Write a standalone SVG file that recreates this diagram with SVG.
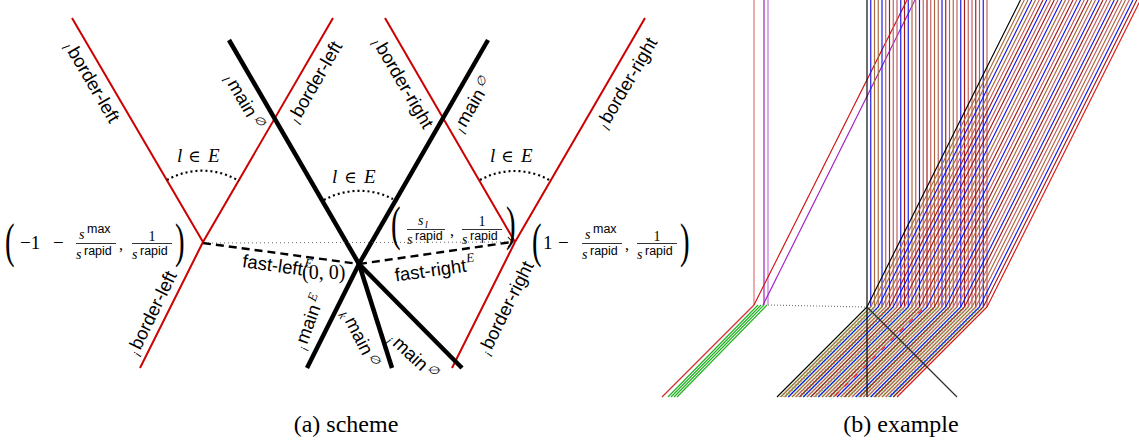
<svg xmlns="http://www.w3.org/2000/svg" xmlns:xlink="http://www.w3.org/1999/xlink" width="1139" height="446" viewBox="0 0 1139 446">
<style>
.red{stroke:#cc0000;stroke-width:2;fill:none}
.blk{stroke:#000;stroke-width:4.5;fill:none}
.dash{stroke:#000;stroke-width:2.4;stroke-dasharray:8 5;fill:none}
.dot{stroke:#555;stroke-width:0.9;stroke-dasharray:1 3;fill:none}
.arc{stroke:#000;stroke-width:2.2;stroke-dasharray:2 3;fill:none}
.lbl{font-family:"Liberation Sans",Arial,sans-serif;font-size:18.5px;fill:#000}
.pre{font-family:"Liberation Serif",serif;font-style:italic;font-size:12px}
.sup{font-family:"DejaVu Serif",serif;font-style:italic;font-size:12px}
.supE{font-family:"Liberation Serif",serif;font-style:italic;font-size:13px}
.m{font-family:"Liberation Serif",serif;font-style:italic;fill:#000}
.rm{font-family:"Liberation Serif",serif;fill:#000}
.sym{font-family:"DejaVu Serif",serif;fill:#000}
.ss{font-family:"Liberation Sans",Arial,sans-serif;font-size:12.5px;fill:#000}
.bar{stroke:#000;stroke-width:0.8}
.big{font-size:48px}
.cap{font-family:"Liberation Serif",serif;font-size:24px;fill:#000}
.ex use, .ex line, .ex path{fill:none;stroke-width:1.15}
.k0{stroke:#000}.cb{stroke:#1414ea}.ct{stroke:#a8683c}.cr{stroke:#c05a5a}.cd{stroke:#a01818}.cx{stroke:#e01010}
</style>
<defs>
<marker id="arr" markerWidth="8" markerHeight="12" refX="0" refY="0" viewBox="-7 -6 8 12" orient="auto" markerUnits="userSpaceOnUse">
<path d="M-5,-5 Q-1.5,-1 0,0 Q-1.5,1 -5,5" fill="none" stroke="#000" stroke-width="1"/>
</marker>
<path id="dg" d="M153.5,0 L0,307 L-90,397"/>
<line id="vl" x1="0" y1="0" x2="0" y2="307"/>
<pattern id="spk" width="3" height="3" patternUnits="userSpaceOnUse">
<rect width="3" height="3" fill="#e6f7e2"/>
<rect x="0" y="0" width="1" height="1" fill="#7fd37a"/>
<rect x="2" y="1.5" width="1" height="1" fill="#a8e2a2"/>
</pattern>
</defs>
<rect width="1139" height="446" fill="#fff"/>

<!-- (a) scheme -->
<g id="connectors">
<line class="red" x1="72" y1="18" x2="203" y2="242"/>
<line class="red" x1="333" y1="18" x2="203" y2="242"/>
<line class="red" x1="203" y1="242" x2="140" y2="368"/>
<line class="red" x1="385" y1="18" x2="515" y2="242"/>
<line class="red" x1="645" y1="18" x2="515" y2="242"/>
<line class="red" x1="515" y1="242" x2="452" y2="368"/>
<line class="blk" x1="229" y1="40" x2="359" y2="264"/>
<line class="blk" x1="488" y1="40" x2="359" y2="264"/>
<line class="blk" x1="359" y1="264" x2="307" y2="368"/>
<line class="blk" x1="359" y1="264" x2="392" y2="368"/>
<line class="blk" x1="359" y1="264" x2="462" y2="368"/>
<line class="dot" x1="204" y1="243" x2="513" y2="242" marker-end="url(#arr)"/>
<line class="dash" x1="203" y1="243" x2="359" y2="264"/>
<line class="dash" x1="359" y1="264" x2="512" y2="242"/>
<path class="arc" d="M167,180 A71,71 0 0 1 239,181"/>
<path class="arc" d="M324,200 A73,73 0 0 1 393,199"/>
<path class="arc" d="M480,180 A71,71 0 0 1 551,181"/>
</g>

<g id="lbl-border-left-top"><g transform="translate(92,82) rotate(59.6)"><text class="lbl" text-anchor="middle" y="6"><tspan class="pre" dy="3">l</tspan><tspan dy="-3" dx="3">border-left</tspan></text></g></g>
<g id="lbl-main-l-left"><g transform="translate(244,101) rotate(59.9)"><text class="lbl" text-anchor="middle" y="6"><tspan class="pre" dy="3">l</tspan><tspan dy="-3" dx="3">main</tspan><tspan class="sup" dy="-6" dx="3">∅</tspan></text></g></g>
<g id="lbl-border-left-mid"><g transform="translate(315,82) rotate(-59.9)"><text class="lbl" text-anchor="middle" y="6"><tspan class="pre" dy="3">l</tspan><tspan dy="-3" dx="3">border-left</tspan></text></g></g>
<g id="lbl-border-right-mid"><g transform="translate(403,83) rotate(59.6)"><text class="lbl" text-anchor="middle" y="6"><tspan class="pre" dy="3">l</tspan><tspan dy="-3" dx="3">border-right</tspan></text></g></g>
<g id="lbl-main-l-right"><g transform="translate(472,105) rotate(-59.9)"><text class="lbl" text-anchor="middle" y="6"><tspan class="pre" dy="3">l</tspan><tspan dy="-3" dx="3">main</tspan><tspan class="sup" dy="-6" dx="3">∅</tspan></text></g></g>
<g id="lbl-border-right-top"><g transform="translate(627,83) rotate(-59.6)"><text class="lbl" text-anchor="middle" y="6"><tspan class="pre" dy="3">l</tspan><tspan dy="-3" dx="3">border-right</tspan></text></g></g>
<g id="lbl-border-left-i"><g transform="translate(152,313) rotate(-64)"><text class="lbl" text-anchor="middle" y="6"><tspan class="pre" dy="3">i</tspan><tspan dy="-3" dx="3">border-left</tspan></text></g></g>
<g id="lbl-main-i"><g transform="translate(309,322) rotate(-70)"><text class="lbl" text-anchor="middle" y="6"><tspan class="pre" dy="3">i</tspan><tspan dy="-3" dx="3">main</tspan><tspan class="supE" dy="-7" dx="3">E</tspan></text></g></g>
<g id="lbl-main-k"><g transform="translate(360,338) rotate(63)"><text class="lbl" text-anchor="middle" y="6"><tspan class="pre" dy="3">k</tspan><tspan dy="-3" dx="3">main</tspan><tspan class="sup" dy="-6" dx="3">∅</tspan></text></g></g>
<g id="lbl-main-j"><g transform="translate(413,356) rotate(43)"><text class="lbl" text-anchor="middle" y="6"><tspan class="pre" dy="3">j</tspan><tspan dy="-3" dx="3">main</tspan><tspan class="sup" dy="-6" dx="3">∅</tspan></text></g></g>
<g id="lbl-border-right-i"><g transform="translate(506,308) rotate(-63.4)"><text class="lbl" text-anchor="middle" y="6"><tspan class="pre" dy="3">i</tspan><tspan dy="-3" dx="3">border-right</tspan></text></g></g>
<g id="lbl-fast-left"><g transform="translate(277,266) rotate(8)"><text class="lbl" text-anchor="middle" y="6">fast-left<tspan class="supE" dy="-9" dx="1">E</tspan></text></g></g>
<g id="lbl-fast-right"><g transform="translate(435,270) rotate(-8)"><text class="lbl" text-anchor="middle" y="6">fast-right<tspan class="supE" dy="-9" dx="1">E</tspan></text></g></g>
<g id="lbl-origin"><text class="rm" x="302" y="279" font-size="20">(0, 0)</text></g>

<g id="lbl-lE-left"><text class="m" x="177" y="162" font-size="19">l</text><text class="sym" x="188" y="162" font-size="17">∈</text><text class="m" x="208" y="162" font-size="19">E</text></g>
<g id="lbl-lE-mid"><text class="m" x="332" y="183" font-size="19">l</text><text class="sym" x="344" y="183" font-size="17">∈</text><text class="m" x="364" y="183" font-size="19">E</text></g>
<g id="lbl-lE-right"><text class="m" x="490" y="162" font-size="19">l</text><text class="sym" x="501" y="162" font-size="17">∈</text><text class="m" x="521" y="162" font-size="19">E</text></g>

<g id="pt-left">
<text class="rm big" transform="translate(5,257) scale(0.6,1)">(</text>
<text class="rm" x="20" y="249" font-size="19">−1</text>
<text class="rm" x="53" y="249" font-size="19">−</text>
<text class="m" x="79" y="239" font-size="14">s</text><text class="ss" x="87" y="233">max</text>
<line class="bar" x1="76" y1="243.5" x2="116" y2="243.5"/>
<text class="m" x="76" y="259" font-size="14">s</text><text class="ss" x="84" y="255">rapid</text>
<text class="rm" x="119" y="250" font-size="16">,</text>
<text class="rm" x="152" y="241" font-size="14" text-anchor="middle">1</text>
<line class="bar" x1="132" y1="243.5" x2="172" y2="243.5"/>
<text class="m" x="132" y="259" font-size="14">s</text><text class="ss" x="140" y="255">rapid</text>
<text class="rm big" transform="translate(175,257) scale(0.6,1)">)</text>
</g>

<g id="pt-mid">
<text class="rm big" transform="translate(391,240) scale(0.6,1)">(</text>
<text class="m" x="418" y="225" font-size="14">s</text><text class="m" x="425" y="228" font-size="10">l</text>
<line class="bar" x1="407" y1="229.5" x2="445" y2="229.5"/>
<text class="m" x="407" y="244" font-size="14">s</text><text class="ss" x="415" y="240">rapid</text>
<text class="rm" x="450" y="236" font-size="16">,</text>
<text class="rm" x="482" y="226" font-size="14" text-anchor="middle">1</text>
<line class="bar" x1="462" y1="229.5" x2="502" y2="229.5"/>
<text class="m" x="462" y="244" font-size="14">s</text><text class="ss" x="470" y="240">rapid</text>
<text class="rm big" transform="translate(506,240) scale(0.6,1)">)</text>
</g>

<g id="pt-right">
<text class="rm big" transform="translate(532,257) scale(0.6,1)">(</text>
<text class="rm" x="543" y="249" font-size="19">1</text>
<text class="rm" x="558" y="249" font-size="19">−</text>
<text class="m" x="585" y="239" font-size="14">s</text><text class="ss" x="593" y="233">max</text>
<line class="bar" x1="582" y1="243.5" x2="622" y2="243.5"/>
<text class="m" x="582" y="259" font-size="14">s</text><text class="ss" x="590" y="255">rapid</text>
<text class="rm" x="625" y="250" font-size="16">,</text>
<text class="rm" x="657" y="241" font-size="14" text-anchor="middle">1</text>
<line class="bar" x1="637" y1="243.5" x2="677" y2="243.5"/>
<text class="m" x="637" y="259" font-size="14">s</text><text class="ss" x="645" y="255">rapid</text>
<text class="rm big" transform="translate(680,257) scale(0.6,1)">)</text>
</g>

<g id="caption-a"><text class="cap" x="346" y="432" text-anchor="middle">(a) scheme</text></g>

<!-- (b) example -->
<g id="example" class="ex">
<polygon points="867,307 987,307 895,397 778,397" fill="url(#spk)" stroke="none"/>
<line x1="754" y1="0" x2="754" y2="305" stroke="#e07070" stroke-width="1.4"/>
<line x1="764" y1="0" x2="764" y2="305" stroke="#9a1ab0"/>
<line x1="768" y1="0" x2="768" y2="305" stroke="#c070d8"/>
<line x1="907" y1="0" x2="754" y2="305" stroke="#d01010"/>
<line x1="915" y1="0" x2="763" y2="305" stroke="#a020c0"/>
<line x1="754" y1="305" x2="662" y2="397" stroke="#cc3030"/>
<line x1="758" y1="305" x2="668" y2="397" stroke="#20b020"/>
<line x1="761" y1="305" x2="671" y2="397" stroke="#20b020"/>
<line x1="764" y1="305" x2="674" y2="397" stroke="#20b020"/>
<line x1="767" y1="305" x2="677" y2="397" stroke="#20b020"/>
<line x1="768" y1="305" x2="866" y2="307" stroke="#777" stroke-dasharray="1 2"/>

<use href="#vl" x="870.75" class="cb"/>
<use href="#vl" x="874.5" class="ct"/>
<use href="#vl" x="878.25" class="ct"/>
<use href="#vl" x="882" class="cb"/>
<use href="#vl" x="885.75" class="cr"/>
<use href="#vl" x="889.5" class="cd"/>
<use href="#vl" x="893.25" class="cr"/>
<use href="#vl" x="897" class="cr"/>
<use href="#vl" x="900.75" class="cb"/>
<use href="#vl" x="904.5" class="cd"/>
<use href="#vl" x="908.25" class="cb"/>
<use href="#vl" x="912" class="ct"/>
<use href="#vl" x="915.75" class="cr"/>
<use href="#vl" x="919.5" class="cb"/>
<use href="#vl" x="923.25" class="cr"/>
<use href="#vl" x="927" class="cd"/>
<use href="#vl" x="930.75" class="cr"/>
<use href="#vl" x="934.5" class="ct"/>
<use href="#vl" x="938.25" class="cr"/>
<use href="#vl" x="942" class="cb"/>
<use href="#vl" x="945.75" class="cd"/>
<use href="#vl" x="949.5" class="cr"/>
<use href="#vl" x="953.25" class="ct"/>
<use href="#vl" x="957" class="cr"/>
<use href="#vl" x="960.75" class="cb"/>
<use href="#vl" x="964.5" class="cd"/>
<use href="#vl" x="968.25" class="cr"/>
<use href="#vl" x="972" class="cr"/>
<use href="#vl" x="975.75" class="cd"/>
<use href="#vl" x="979.5" class="cr"/>
<use href="#vl" x="983.25" class="cb"/>
<use href="#vl" x="987" class="cr"/>

<use href="#dg" x="867" class="k0"/>
<use href="#dg" x="870.75" class="ct"/>
<use href="#dg" x="874.5" class="ct"/>
<use href="#dg" x="878.25" class="cb"/>
<use href="#dg" x="882" class="ct"/>
<use href="#dg" x="885.75" class="cr"/>
<use href="#dg" x="889.5" class="cd"/>
<use href="#dg" x="893.25" class="cb"/>
<use href="#dg" x="897" class="cr"/>
<use href="#dg" x="900.75" class="cd"/>
<use href="#dg" x="904.5" class="cr"/>
<use href="#dg" x="908.25" class="cb"/>
<use href="#dg" x="912" class="ct"/>
<use href="#dg" x="915.75" class="cr"/>
<use href="#dg" x="919.5" class="cd"/>
<use href="#dg" x="923.25" class="cr"/>
<use href="#dg" x="927" class="cb"/>
<use href="#dg" x="930.75" class="cr"/>
<use href="#dg" x="934.5" class="cd"/>
<use href="#dg" x="938.25" class="ct"/>
<use href="#dg" x="942" class="cr"/>
<use href="#dg" x="945.75" class="cb"/>
<use href="#dg" x="949.5" class="cd"/>
<use href="#dg" x="953.25" class="cr"/>
<use href="#dg" x="957" class="cr"/>
<use href="#dg" x="960.75" class="cb"/>
<use href="#dg" x="964.5" class="cd"/>
<use href="#dg" x="968.25" class="cr"/>
<use href="#dg" x="972" class="ct"/>
<use href="#dg" x="975.75" class="cr"/>
<use href="#dg" x="979.5" class="cb"/>
<use href="#dg" x="983.25" class="cd"/>
<use href="#dg" x="987" class="cx"/>

<line x1="922" y1="310" x2="835" y2="396" stroke="#ff2020" stroke-width="1.3" stroke-dasharray="5 8"/>
<line x1="867" y1="0" x2="867" y2="397" stroke="#000"/>
<line x1="867" y1="307" x2="957" y2="397" stroke="#333"/>
</g>

<g id="caption-b"><text class="cap" x="901" y="432" text-anchor="middle">(b) example</text></g>
</svg>
